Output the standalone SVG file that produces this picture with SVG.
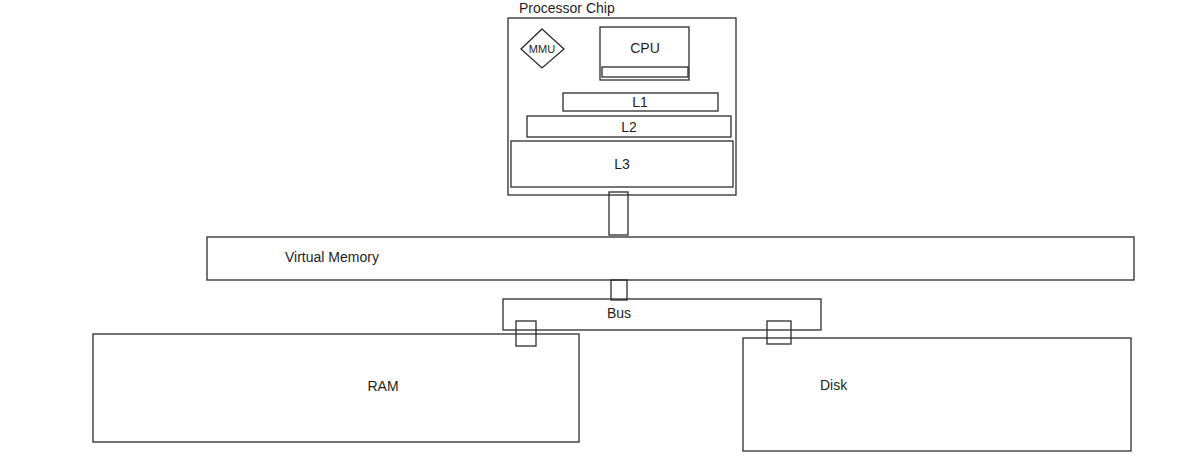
<svg xmlns="http://www.w3.org/2000/svg" width="1190" height="472" viewBox="0 0 1190 472">
<style>
.box{fill:#ffffff;stroke:#2b2b2b;stroke-width:1.3}
.link{fill:none;stroke:#2b2b2b;stroke-width:1.3}
.t{font-family:"Liberation Sans",Arial,sans-serif;font-size:14px;fill:#1e1e1e}
.c{text-anchor:middle}
</style>
<rect width="1190" height="472" fill="#ffffff"/>
<g id="processor-chip">
<rect class="box" x="508" y="18" width="228" height="177"/>
<text class="t" x="519" y="13">Processor Chip</text>
</g>
<g id="mmu">
<polygon class="box" points="542,29 564,49 542,68 521,49"/>
<text class="t c" x="542" y="53" style="font-size:11px">MMU</text>
</g>
<g id="cpu">
<rect class="box" x="600" y="27" width="89" height="53"/>
<rect class="box" x="602" y="67" width="86" height="10"/>
<text class="t c" x="645" y="53">CPU</text>
</g>
<g id="l1">
<rect class="box" x="563" y="93" width="155" height="18"/>
<text class="t c" x="640" y="107">L1</text>
</g>
<g id="l2">
<rect class="box" x="527" y="116" width="204" height="21"/>
<text class="t c" x="629" y="132">L2</text>
</g>
<g id="l3">
<rect class="box" x="511" y="141" width="222" height="46"/>
<text class="t c" x="622" y="169">L3</text>
</g>
<g id="virtual-memory">
<rect class="box" x="207" y="237" width="927" height="43"/>
<text class="t" x="285" y="262">Virtual Memory</text>
</g>
<g id="bus">
<rect class="box" x="503" y="299" width="318" height="31"/>
<text class="t c" x="619" y="318">Bus</text>
</g>
<g id="ram">
<rect class="box" x="93" y="334" width="486" height="108"/>
<text class="t c" x="383" y="391">RAM</text>
</g>
<g id="disk">
<rect class="box" x="743" y="338" width="388" height="113"/>
<text class="t" x="820" y="390">Disk</text>
</g>
<g id="connectors">
<rect class="link" x="609" y="192" width="19" height="43"/>
<rect class="link" x="611" y="280" width="16" height="20"/>
<rect class="link" x="516" y="321" width="20" height="25"/>
<rect class="link" x="767" y="321" width="24" height="23"/>
</g>
</svg>
